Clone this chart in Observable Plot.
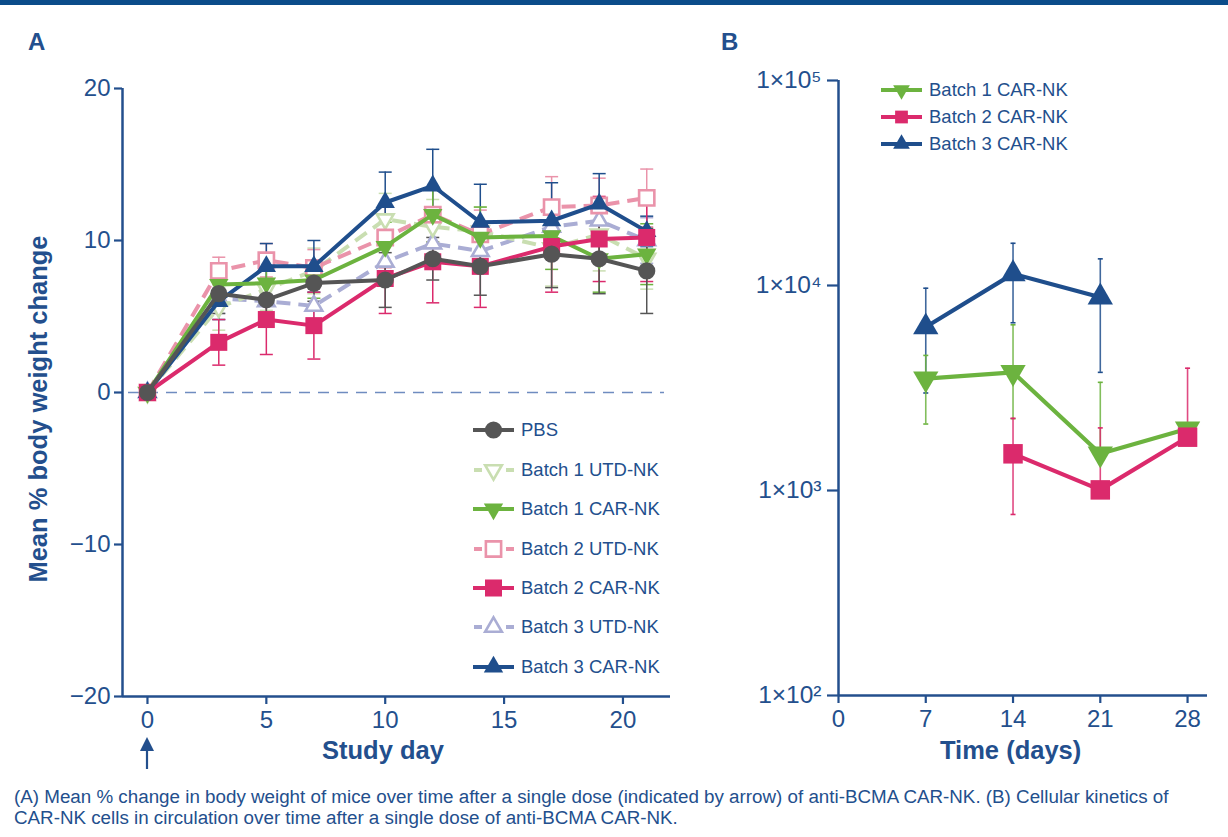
<!DOCTYPE html>
<html>
<head>
<meta charset="utf-8">
<script src="https://cdn.jsdelivr.net/npm/d3@7"></script>
<script src="https://cdn.jsdelivr.net/npm/@observablehq/plot@0.6"></script>
<style>
  body { margin: 0; background: #fff; }
  #root { position: relative; width: 1228px; height: 837px; overflow: hidden; font-family: "Liberation Sans", Arial, sans-serif; color: #234f8d; }
  .abs { position: absolute; }
  .panel { font-family: "Liberation Sans Narrow", "Liberation Sans", Arial, sans-serif; font-weight: bold; font-size: 24px; }
  .atitle { font-weight: bold; font-size: 25.5px; white-space: nowrap; }
  .leg { font-size: 18.5px; white-space: nowrap; display: flex; align-items: center; }
  .leg svg { margin-right: 7px; }
  .cap { font-size: 18.8px; line-height: 21px; left: 14px; top: 786px; white-space: nowrap; }
</style>
</head>
<body>
<div id="root">
  <div class="abs" style="left:0;top:0;width:1228px;height:5px;background:#0b4c8a"></div>
  <div class="abs panel" style="left:28px;top:28px">A</div>
  <div class="abs panel" style="left:721px;top:28px">B</div>
  <div id="plotA" class="abs" style="left:0;top:60px"></div>
  <div id="plotB" class="abs" style="left:700px;top:60px"></div>
  <div class="abs atitle" style="left:322px;top:736px">Study day</div>
  <div class="abs atitle" style="left:940px;top:736px">Time (days)</div>
  <div class="abs atitle" style="left:38px;top:409px;transform:translate(-50%,-50%) rotate(-90deg)">Mean % body weight change</div>
  <div id="legA" class="abs"></div>
  <div id="legB" class="abs"></div>
  <div class="abs cap">(A) Mean % change in body weight of mice over time after a single dose (indicated by arrow) of anti-BCMA CAR-NK. (B) Cellular kinetics of<br>CAR-NK cells in circulation over time after a single dose of anti-BCMA CAR-NK.</div>
</div>
<script>
// ---------- Data: panel A ----------
const daysA = [0, 3, 5, 7, 10, 12, 14, 17, 19, 21];
const seriesA = ["PBS", "Batch 1 UTD-NK", "Batch 1 CAR-NK", "Batch 2 UTD-NK", "Batch 2 CAR-NK", "Batch 3 UTD-NK", "Batch 3 CAR-NK"];
const pbs      = [0, 6.5, 6.1, 7.2, 7.4, 8.8, 8.3, 9.1, 8.8, 8.0];
const pbsErr   = [0, 1.3, 1.1, 1.2, 1.8, 1.4, 1.9, 2.2, 2.3, 2.8];
const b1Utd    = [0, 5.6, 6.8, 8.0, 11.4, 10.9, 10.6, 9.5, 10.4, 8.8];
const b1UtdErr = [0, 1.5, 1.4, 1.5, 1.7, 1.8, 1.6, 2.5, 2.4, 2.0];
const b1Car    = [0, 7.1, 7.2, 7.4, 9.6, 11.7, 10.2, 10.3, 8.8, 9.1];
const b1CarErr = [0, 1.0, 1.2, 1.2, 1.6, 1.8, 2.0, 2.2, 2.2, 2.0];
const b2Utd    = [0, 8.0, 8.7, 8.2, 10.2, 11.7, 10.4, 12.2, 12.3, 12.8];
const b2UtdErr = [0, 0.9, 1.1, 1.2, 2.0, 1.8, 1.6, 2.0, 1.8, 1.9];
const b2Car    = [0, 3.3, 4.8, 4.4, 7.5, 8.6, 8.3, 9.6, 10.1, 10.2];
const b2CarErr = [0, 1.5, 2.3, 2.2, 2.3, 2.7, 2.7, 3.0, 2.8, 2.9];
const b3Utd    = [0, 6.2, 6.0, 5.7, 8.6, 9.8, 9.3, 10.9, 11.3, 10.0];
const b3UtdErr = [0, 1.0, 1.0, 1.2, 1.4, 1.4, 1.4, 1.6, 1.5, 1.5];
const b3Car    = [0, 6.0, 8.3, 8.3, 12.5, 13.6, 11.2, 11.3, 12.4, 10.6];
const b3CarErr = [0, 1.2, 1.5, 1.7, 2.0, 2.4, 2.5, 2.5, 2.0, 1.0];
const yTicksA = [-20, -10, 0, 10, 20];
const xTicksA = [0, 5, 10, 15, 20];
const doseDay = [0];

// ---------- Data: panel B ----------
const daysB = [7, 14, 21, 28];
const seriesB = ["Batch 1 CAR-NK", "Batch 2 CAR-NK", "Batch 3 CAR-NK"];
const kB1    = [3510, 3770, 1510, 2000];
const kB1Lo  = [2110, 2240, 1510, 2000];
const kB1Hi  = [4560, 6430, 3370, 2000];
const kB2    = [null, 1510, 1007, 1820];
const kB2Lo  = [null, 764, 1007, 1820];
const kB2Hi  = [null, 2250, 2020, 3950];
const kB3    = [6270, 11400, 8770, null];
const kB3Lo  = [2990, 6580, 3770, null];
const kB3Hi  = [9700, 16070, 13490, null];
const yTicksB = [1e2, 1e3, 1e4, 1e5];
const xTicksB = [0, 7, 14, 21, 28];

// ---------- Styles ----------
const axisColor = "#234f8d";
const colorOf = {
  "PBS": "#555555",
  "Batch 1 UTD-NK": "#c9deb1",
  "Batch 1 CAR-NK": "#6cb33f",
  "Batch 2 UTD-NK": "#ea93aa",
  "Batch 2 CAR-NK": "#db2a6c",
  "Batch 3 UTD-NK": "#aaadd4",
  "Batch 3 CAR-NK": "#1f4e8c"
};
const symbolOf = {
  "PBS": ["circle", 0, false],
  "Batch 1 UTD-NK": ["triangle", 180, true],
  "Batch 1 CAR-NK": ["triangle", 180, false],
  "Batch 2 UTD-NK": ["square", 0, true],
  "Batch 2 CAR-NK": ["square", 0, false],
  "Batch 3 UTD-NK": ["triangle", 0, true],
  "Batch 3 CAR-NK": ["triangle", 0, false]
};
const rA = {circle: 8.6, square: 9.6, triangle: 7.2};
const rB = {square: 11, triangle: 9.4};
const capSym = (w) => ({draw(ctx) { ctx.moveTo(-w / 2, 0); ctx.lineTo(w / 2, 0); }});
const fontFam = "'Liberation Sans', Arial, sans-serif";

// ---------- Panel A ----------
const valsA = {
  "PBS": [pbs, pbsErr], "Batch 1 UTD-NK": [b1Utd, b1UtdErr], "Batch 1 CAR-NK": [b1Car, b1CarErr],
  "Batch 2 UTD-NK": [b2Utd, b2UtdErr], "Batch 2 CAR-NK": [b2Car, b2CarErr],
  "Batch 3 UTD-NK": [b3Utd, b3UtdErr], "Batch 3 CAR-NK": [b3Car, b3CarErr]
};
const orderA = ["Batch 3 UTD-NK", "Batch 1 UTD-NK", "Batch 2 UTD-NK", "Batch 3 CAR-NK", "Batch 1 CAR-NK", "Batch 2 CAR-NK", "PBS"];
const xDomA = [-1.05, 22];
const marksA = [];
marksA.push(Plot.ruleY([0], {stroke: "#6f8cc0", strokeWidth: 1.6, strokeDasharray: "11,8", insetLeft: 6, insetRight: 6}));
for (const s of orderA) {
  const [v, e] = valsA[s];
  const rows = daysA.map((d, j) => ({day: d, v: v[j], e: e[j]})).filter(r => r.v != null);
  const er = rows.filter(r => r.e > 0);
  const c = colorOf[s];
  marksA.push(Plot.ruleX(er, {x: "day", y1: r => r.v - r.e, y2: r => r.v + r.e, stroke: c, strokeWidth: 1.5}));
  marksA.push(Plot.dot(er, {x: "day", y: r => r.v + r.e, symbol: capSym(13), r: 3, stroke: c, fill: "none", strokeWidth: 1.5}));
  marksA.push(Plot.dot(er, {x: "day", y: r => r.v - r.e, symbol: capSym(13), r: 3, stroke: c, fill: "none", strokeWidth: 1.5}));
}
for (const s of orderA) {
  const [v] = valsA[s];
  const rows = daysA.map((d, j) => ({day: d, v: v[j]})).filter(r => r.v != null);
  const c = colorOf[s];
  const [sym, rot, open] = symbolOf[s];
  marksA.push(Plot.line(rows, {x: "day", y: "v", stroke: c, strokeWidth: 4,
    strokeDasharray: open ? "14,8" : null, strokeLinecap: open ? "butt" : "round", strokeLinejoin: "round"}));
  marksA.push(Plot.dot(rows, {x: "day", y: "v", symbol: sym, rotate: rot, r: rA[sym] - (open ? 1 : 0),
    fill: open ? "white" : c, stroke: open ? c : "none", strokeWidth: open ? 2.6 : 0}));
}
marksA.push(Plot.ruleX([xDomA[0]], {stroke: axisColor, strokeWidth: 2.5}));
marksA.push(Plot.ruleY([yTicksA[0]], {stroke: axisColor, strokeWidth: 2.5}));
marksA.push(Plot.axisY({ticks: yTicksA, tickSize: 8, tickPadding: 4, tickFormat: d => d < 0 ? "\u2212" + Math.abs(d) : String(d), label: null, fontSize: 24, strokeWidth: 2.2}));
marksA.push(Plot.axisX({ticks: xTicksA, tickSize: 8, tickPadding: 6, label: null, fontSize: 24, strokeWidth: 2.2}));

const plotA = Plot.plot({
  width: 700, height: 720,
  marginLeft: 122, marginTop: 28, marginBottom: 84, marginRight: 30,
  x: {domain: xDomA},
  y: {domain: [-20, 20]},
  style: {fontFamily: fontFam, color: axisColor, background: "transparent", overflow: "visible"},
  marks: marksA
});
document.getElementById("plotA").appendChild(plotA);

// dose arrow placed at x-scale position of day 0
{
  const px = plotA.scale("x").apply(doseDay[0]);
  const svg = d3.create("svg").attr("width", 20).attr("height", 34)
    .style("position", "absolute").style("left", (px - 10) + "px").style("top", "736px");
  svg.append("path").attr("d", "M10,1 L3,15 L17,15 Z").attr("fill", axisColor);
  svg.append("line").attr("x1", 10).attr("x2", 10).attr("y1", 12).attr("y2", 33).attr("stroke", axisColor).attr("stroke-width", 2.2);
  document.getElementById("root").appendChild(svg.node());
}

// ---------- Panel B ----------
const valsB = {
  "Batch 1 CAR-NK": [kB1, kB1Lo, kB1Hi],
  "Batch 2 CAR-NK": [kB2, kB2Lo, kB2Hi],
  "Batch 3 CAR-NK": [kB3, kB3Lo, kB3Hi]
};
const sup = {2: "\u00b2", 3: "\u00b3", 4: "\u2074", 5: "\u2075"};
const marksB = [];
const orderB = ["Batch 3 CAR-NK", "Batch 1 CAR-NK", "Batch 2 CAR-NK"];
for (const s of orderB) {
  const [v, lo, hi] = valsB[s];
  const rows = daysB.map((d, j) => ({day: d, v: v[j], lo: lo[j], hi: hi[j]})).filter(r => r.v != null && r.hi > r.lo);
  const c = colorOf[s];
  marksB.push(Plot.ruleX(rows, {x: "day", y1: "lo", y2: "hi", stroke: c, strokeWidth: 1.6, strokeOpacity: 0.85}));
  marksB.push(Plot.dot(rows, {x: "day", y: "hi", symbol: capSym(5), r: 2, stroke: c, fill: "none", strokeWidth: 1.6}));
  marksB.push(Plot.dot(rows.filter(r => r.lo < r.v), {x: "day", y: "lo", symbol: capSym(5), r: 2, stroke: c, fill: "none", strokeWidth: 1.6}));
}
for (const s of orderB) {
  const [v] = valsB[s];
  const rows = daysB.map((d, j) => ({day: d, v: v[j]})).filter(r => r.v != null);
  const c = colorOf[s];
  const [sym, rot] = symbolOf[s];
  marksB.push(Plot.line(rows, {x: "day", y: "v", stroke: c, strokeWidth: 4.2, strokeLinejoin: "round"}));
  marksB.push(Plot.dot(rows, {x: "day", y: "v", symbol: sym, rotate: rot, r: rB[sym], fill: c, stroke: "none"}));
}
marksB.push(Plot.ruleX([0], {stroke: axisColor, strokeWidth: 2.5}));
marksB.push(Plot.ruleY([yTicksB[0]], {stroke: axisColor, strokeWidth: 2.5}));
marksB.push(Plot.axisY({ticks: yTicksB, tickSize: 11, tickPadding: 6, tickFormat: d => "1\u00d710" + sup[Math.round(Math.log10(d))], label: null, fontSize: 24.5, strokeWidth: 2.2}));
marksB.push(Plot.axisX({ticks: xTicksB, tickSize: 8, tickPadding: 6, label: null, fontSize: 24, strokeWidth: 2.2}));

const plotB = Plot.plot({
  width: 528, height: 720,
  marginLeft: 138, marginTop: 20, marginBottom: 85, marginRight: 21,
  x: {domain: [0, 29.6]},
  y: {type: "log", domain: [1e2, 1e5]},
  style: {fontFamily: fontFam, color: axisColor, background: "transparent", overflow: "visible"},
  marks: marksB
});
document.getElementById("plotB").appendChild(plotB);

// ---------- Legends ----------
function swatch(s, w, rScale) {
  const c = colorOf[s];
  const [sym, rot, open] = symbolOf[s];
  const svg = d3.create("svg").attr("width", w).attr("height", 24);
  const ln = svg.append("line").attr("x1", 0).attr("x2", w).attr("y1", 12).attr("y2", 12)
    .attr("stroke", c).attr("stroke-width", 4);
  if (open) ln.attr("stroke-dasharray", "8,8").attr("stroke-dashoffset", -1);
  const dsym = {circle: d3.symbolCircle, square: d3.symbolSquare, triangle: d3.symbolTriangle}[sym];
  const rr = rScale[sym] - (open ? 1 : 0);
  svg.append("path").attr("d", d3.symbol(dsym, Math.PI * rr * rr)())
    .attr("transform", `translate(${w / 2},12) rotate(${rot})`)
    .attr("fill", open ? "white" : c).attr("stroke", open ? c : "none").attr("stroke-width", 2.6);
  return svg.node();
}
{
  const leg = document.getElementById("legA");
  const rowsY = [430, 470, 509, 549, 588, 627, 667];
  seriesA.forEach((s, i) => {
    const div = document.createElement("div");
    div.className = "abs leg";
    div.style.left = "473px";
    div.style.top = (rowsY[i] - 12) + "px";
    div.appendChild(swatch(s, 41, rA));
    div.appendChild(document.createTextNode(s));
    leg.appendChild(div);
  });
}
{
  const leg = document.getElementById("legB");
  const rowsY = [90, 117, 144];
  const rSmall = {square: 7.2, triangle: 6.2};
  seriesB.forEach((s, i) => {
    const div = document.createElement("div");
    div.className = "abs leg";
    div.style.left = "881px";
    div.style.top = (rowsY[i] - 12) + "px";
    div.appendChild(swatch(s, 41, rSmall));
    div.appendChild(document.createTextNode(s));
    leg.appendChild(div);
  });
}
</script>
</body>
</html>
